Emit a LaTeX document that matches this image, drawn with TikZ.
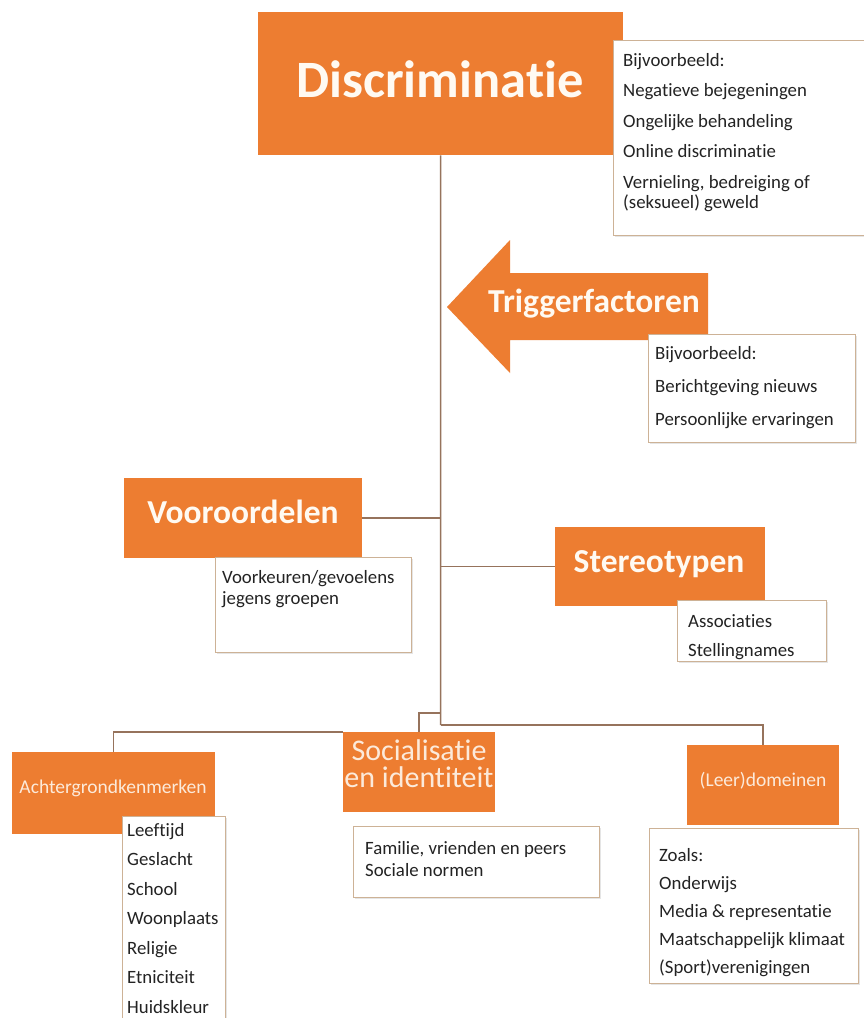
\documentclass[tikz,border=0pt]{standalone}
\usepackage{fontspec}
\setmainfont{Carlito}[Ligatures={NoCommon}]
\usetikzlibrary{shadows}
\definecolor{orng}{RGB}{237,125,49}
\definecolor{lin}{RGB}{150,115,92}
\definecolor{bord}{RGB}{205,178,150}
\definecolor{ttlc}{RGB}{255,250,242}
\definecolor{ltxt}{RGB}{252,234,218}
\definecolor{txt}{RGB}{35,35,35}
\begin{document}
\begin{tikzpicture}[x=1pt,y=-1pt,
  obox/.style={fill=orng, draw=none, inner sep=0, anchor=north west},
  wbox/.style={fill=white, draw=bord, line width=1.1pt, inner sep=0, anchor=north west,
    drop shadow={shadow xshift=1.5pt, shadow yshift=-1.5pt, opacity=.2}},
  conn/.style={draw=lin, line width=1.5pt},
  btxt/.style={inner sep=0, anchor=north west, align=left, text=txt},
  ttl/.style={text=ttlc, inner sep=0, anchor=base, font=\bfseries\fontsize{33.5}{38}\selectfont},
  stl/.style={text=ltxt, inner sep=0, anchor=base}]
\useasboundingbox (0,0) rectangle (864,1018);
\clip (0,0) rectangle (864,1018);
\fill[white] (0,0) rectangle (864,1018);

% coordinates on trunk
\coordinate (tb) at (440.5,725);
\coordinate (sj) at (440.5,713);

% boxes (positions)
\node[obox, minimum width=365, minimum height=143] (disc) at (258,12) {};
\node[obox, minimum width=238, minimum height=80] (voor) at (124,478) {};
\node[obox, minimum width=210, minimum height=79] (ster) at (555,527) {};
\node[obox, minimum width=203, minimum height=82] (ach) at (12,752) {};
\node[obox, minimum width=152, minimum height=80] (soc) at (343,732) {};
\node[obox, minimum width=152, minimum height=80] (leer) at (687,745) {};

% connectors
\draw[conn] (disc.south) -- (tb);
\draw[conn] (voor.east) -- (voor.east -| tb);
\draw[conn] (tb |- ster.west) -- (ster.west);
\draw[conn] (tb) -| (leer.north);
\draw[conn] (sj) -| (soc.north);
\draw[conn] (ach.north) |- (soc.north west);

% redraw orange boxes over connectors
\fill[orng] (disc.north west) rectangle (disc.south east);
\fill[orng] (voor.north west) rectangle (voor.south east);
\fill[orng] (ster.north west) rectangle (ster.south east);
\fill[orng] (ach.north west) rectangle (ach.south east);
\fill[orng] (soc.north west) rectangle (soc.south east);
\fill[orng] (leer.north west) rectangle (leer.south east);

% trigger arrow
\fill[orng] (447,307) -- (510,240) -- (510,273) -- (708,273) -- (708,340) -- (510,340) -- (510,373) -- cycle;

% titles
\node[ttl, font=\bfseries\fontsize{52.5}{60}\selectfont] (disct) at (440,97) {Discriminatie};
\node[ttl] (trigt) at (594,312) {Triggerfactoren};
\node[ttl] (voort) at (243,523) {Vooroordelen};
\node[ttl] (stert) at (659,572) {Stereotypen};
\node[stl, font=\fontsize{19.5}{22}\selectfont] (acht) at (113,793) {Achtergrondkenmerken};
\node[stl, font=\fontsize{30}{27}\selectfont, anchor=center, align=center] (soct) at (419,763.5) {Socialisatie\\en identiteit};
\node[stl, font=\fontsize{19.5}{22}\selectfont] (leert) at (763,786) {(Leer)domeinen};

% white boxes
\node[wbox, minimum width=251, minimum height=195] (discw) at (613,40) {};
\node[wbox, minimum width=207, minimum height=108] (trigw) at (648,334) {};
\node[wbox, minimum width=196, minimum height=95] (voorw) at (215,557) {};
\node[wbox, minimum width=149, minimum height=61] (sterw) at (677,600) {};
\node[wbox, minimum width=103, minimum height=220] (achw) at (122,816) {};
\node[wbox, minimum width=246, minimum height=71] (socw) at (353,826) {};
\node[wbox, minimum width=209, minimum height=155] (leerw) at (649,828) {};

% texts in white boxes
\node[btxt, font=\fontsize{18.8}{30.5}\selectfont] (discl) at (623,53)
  {Bijvoorbeeld:\\Negatieve bejegeningen\\Ongelijke behandeling\\Online discriminatie\\Vernieling, bedreiging of\\[-10pt](seksueel) geweld};
\node[btxt, font=\fontsize{18.8}{33}\selectfont] (trigl) at (655,346)
  {Bijvoorbeeld:\\Berichtgeving nieuws\\Persoonlijke ervaringen};
\node[btxt, font=\fontsize{18.8}{21}\selectfont] (voorl) at (222,570)
  {Voorkeuren/gevoelens\\jegens groepen};
\node[btxt, font=\fontsize{18.8}{29}\selectfont] (sterl) at (688,614)
  {Associaties\\Stellingnames};
\node[btxt, font=\fontsize{18.8}{29.5}\selectfont] (achl) at (127,823)
  {Leeftijd\\Geslacht\\School\\Woonplaats\\Religie\\Etniciteit\\Huidskleur};
\node[btxt, font=\fontsize{18.8}{22}\selectfont] (socl) at (365,841)
  {Familie, vrienden en peers\\Sociale normen};
\node[btxt, font=\fontsize{18.8}{28}\selectfont] (leerl) at (659,848)
  {Zoals:\\Onderwijs\\Media \& representatie\\Maatschappelijk klimaat\\(Sport)verenigingen};
\end{tikzpicture}
\end{document}
